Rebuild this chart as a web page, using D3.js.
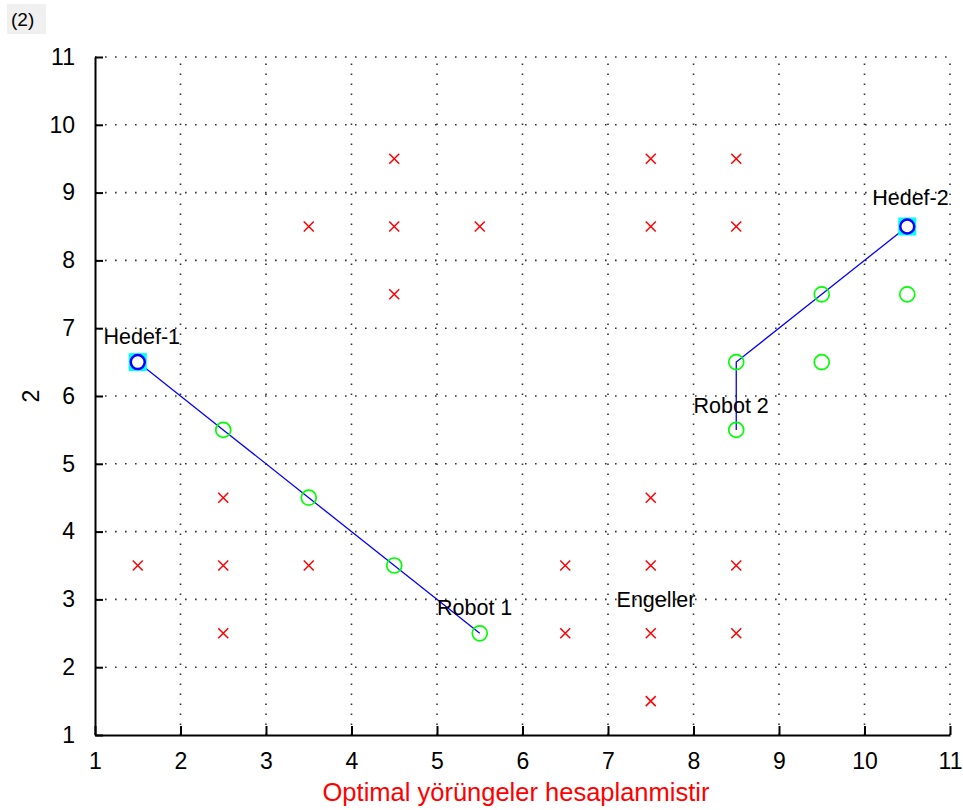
<!DOCTYPE html>
<html>
<head>
<meta charset="utf-8">
<script src="https://cdn.jsdelivr.net/npm/d3@7"></script>
<style>
    body { margin: 0; background: #ffffff; }
    text { font-family: "Liberation Sans", Arial, sans-serif; }
</style>
</head>
<body>
<script>
// 数据
const tickValues = [1, 2, 3, 4, 5, 6, 7, 8, 9, 10, 11];
const obstacles = [
    [4.5, 9.5], [7.5, 9.5], [8.5, 9.5],
    [3.5, 8.5], [4.5, 8.5], [5.5, 8.5], [7.5, 8.5], [8.5, 8.5],
    [4.5, 7.5],
    [2.5, 4.5], [7.5, 4.5],
    [1.5, 3.5], [2.5, 3.5], [3.5, 3.5], [6.5, 3.5], [7.5, 3.5], [8.5, 3.5],
    [2.5, 2.5], [6.5, 2.5], [7.5, 2.5], [8.5, 2.5],
    [7.5, 1.5]
];
const path1 = [[1.5, 6.5], [2.5, 5.5], [3.5, 4.5], [4.5, 3.5], [5.5, 2.5]];
const path2 = [[8.5, 5.5], [8.5, 6.5], [9.5, 7.5], [10.5, 8.5]];
const robotCells = [
    [5.5, 2.5], [4.5, 3.5], [3.5, 4.5], [2.5, 5.5],
    [8.5, 5.5], [8.5, 6.5], [9.5, 7.5], [9.5, 6.5], [10.5, 7.5]
];
const targets = [[1.5, 6.5], [10.5, 8.5]];
const labels = [
    {text: 'Hedef-1', x: 1.1, y: 6.77},
    {text: 'Hedef-2', x: 10.09, y: 8.82},
    {text: 'Robot 2', x: 8.0, y: 5.75},
    {text: 'Robot 1', x: 5.0, y: 2.77},
    {text: 'Engeller', x: 7.1, y: 2.89}
];

const width = 963, height = 810;
const margin = {left: 95, right: 13, top: 57, bottom: 75};

const svg = d3.select('body')
    .append('svg')
    .attr('width', width)
    .attr('height', height);

const x = d3.scaleLinear().domain([1, 11]).range([margin.left, width - margin.right]);
const y = d3.scaleLinear().domain([1, 11]).range([height - margin.bottom, margin.top]);

// 窗口编号
svg.append('rect')
    .attr('x', 7).attr('y', 4).attr('width', 39).attr('height', 30)
    .attr('fill', '#f0f0f0');
svg.append('text')
    .attr('x', 11).attr('y', 26)
    .style('font-size', '19px')
    .text('(2)');

// 网格
const grid = svg.append('g')
    .attr('stroke', '#333333')
    .attr('stroke-width', 1.6)
    .attr('stroke-dasharray', '1.6,8.4');
grid.selectAll('line.v')
    .data(tickValues.slice(1))
    .join('line')
    .attr('class', 'v')
    .attr('x1', d => x(d)).attr('x2', d => x(d))
    .attr('y1', y(1)).attr('y2', y(11));
grid.selectAll('line.h')
    .data(tickValues.slice(1))
    .join('line')
    .attr('class', 'h')
    .attr('x1', x(1)).attr('x2', x(11))
    .attr('y1', d => y(d)).attr('y2', d => y(d));

// 坐标轴
const xAxis = svg.append('g')
    .attr('transform', `translate(0,${y(1)})`)
    .call(d3.axisBottom(x).tickValues(tickValues).tickSizeInner(-9).tickSizeOuter(0).tickPadding(18));
const yAxis = svg.append('g')
    .attr('transform', `translate(${x(1)},0)`)
    .call(d3.axisLeft(y).tickValues(tickValues).tickSizeInner(-8).tickSizeOuter(0).tickPadding(20));
[xAxis, yAxis].forEach(a => {
    a.attr('font-family', null).attr('font-size', null);
    a.select('.domain').attr('stroke', '#000000').attr('stroke-width', 2);
    a.selectAll('.tick line').attr('stroke', '#000000').attr('stroke-width', 2);
    a.selectAll('.tick text')
        .style('font-size', '23px')
        .attr('fill', '#000000');
});

// 轴标签
svg.append('text')
    .attr('transform', `translate(39,${y(6)}) rotate(-90)`)
    .attr('text-anchor', 'middle')
    .style('font-size', '23px')
    .text('2');
svg.append('text')
    .attr('x', 516)
    .attr('y', 801)
    .attr('text-anchor', 'middle')
    .attr('fill', '#ff0000')
    .style('font-size', '25.5px')
    .text('Optimal yörüngeler hesaplanmistir');

// 障碍物
const xs = 5;
svg.append('g')
    .selectAll('path')
    .data(obstacles)
    .join('path')
    .attr('d', d => `M${x(d[0]) - xs},${y(d[1]) - xs}L${x(d[0]) + xs},${y(d[1]) + xs}M${x(d[0]) - xs},${y(d[1]) + xs}L${x(d[0]) + xs},${y(d[1]) - xs}`)
    .attr('stroke', '#ff0000')
    .attr('stroke-width', 1.5)
    .attr('fill', 'none');

// 轨迹
const line = d3.line().x(d => x(d[0])).y(d => y(d[1]));
svg.append('g')
    .selectAll('path')
    .data([path1, path2])
    .join('path')
    .attr('d', line)
    .attr('stroke', '#0000ff')
    .attr('stroke-width', 1.3)
    .attr('fill', 'none');

// 机器人位置
svg.append('g')
    .selectAll('circle')
    .data(robotCells)
    .join('circle')
    .attr('cx', d => x(d[0]))
    .attr('cy', d => y(d[1]))
    .attr('r', 7.5)
    .attr('stroke', '#00ff00')
    .attr('stroke-width', 1.7)
    .attr('fill', 'none');

// 目标
const tg = svg.append('g')
    .selectAll('g')
    .data(targets)
    .join('g')
    .attr('transform', d => `translate(${x(d[0])},${y(d[1])})`);
tg.append('rect')
    .attr('x', -9).attr('y', -9).attr('width', 18).attr('height', 18)
    .attr('fill', '#00ffff');
tg.append('circle')
    .attr('r', 7)
    .attr('fill', '#ffffff')
    .attr('stroke', '#0000ff')
    .attr('stroke-width', 2.5);

// 文字
svg.append('g')
    .selectAll('text')
    .data(labels)
    .join('text')
    .attr('x', d => x(d.x))
    .attr('y', d => y(d.y))
    .style('font-size', '21.5px')
    .attr('fill', '#000000')
    .text(d => d.text);
</script>
</body>
</html>
